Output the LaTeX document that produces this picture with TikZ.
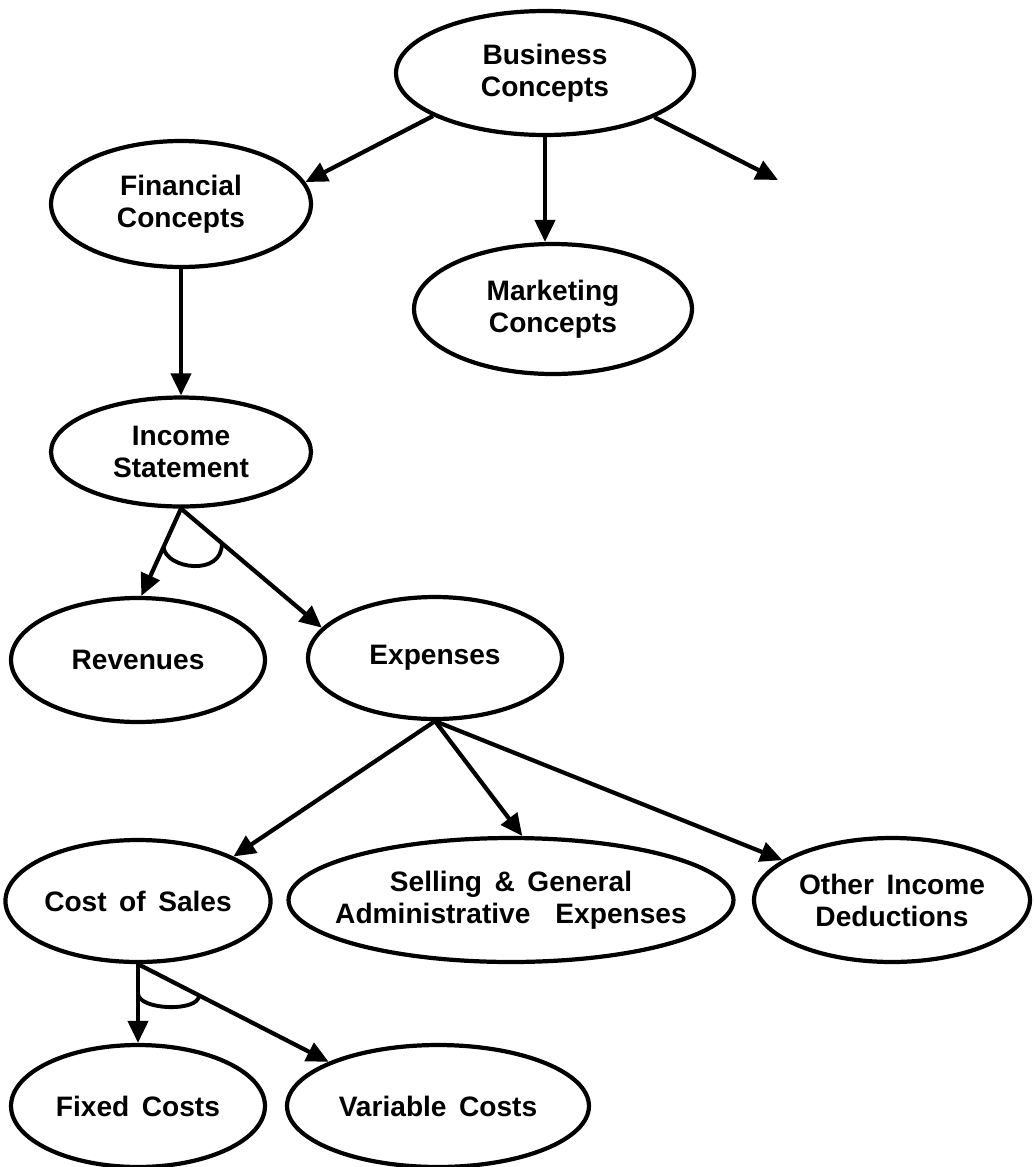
\documentclass[tikz,border=0pt]{standalone}
\usepackage{fontspec}
\setmainfont{Liberation Sans}[WordSpace=1.6]
\usetikzlibrary{shapes.geometric,arrows.meta,calc}

\begin{document}
\begin{tikzpicture}[x=0.02cm, y=-0.02cm, >={Triangle[length=0.44cm,width=0.4cm]},
    concept/.style={ellipse, draw, line width=2.4pt, inner sep=0pt, align=center,
        font=\fontsize{16}{18.2}\selectfont\bfseries},
    link/.style={->, line width=2.4pt}]
    \useasboundingbox (0,0) rectangle (1035,1167);

    % Draw the concept ellipses
    \node[concept, minimum width=5.96cm, minimum height=2.48cm] (biz) at (545,73) {Business\\Concepts};
    \node[concept, minimum width=5.2cm, minimum height=2.52cm] (fin) at (181,204) {Financial\\Concepts};
    \node[concept, minimum width=5.56cm, minimum height=2.6cm] (mkt) at (553,309) {Marketing\\Concepts};
    \node[concept, minimum width=5.2cm, minimum height=2.18cm] (inc) at (181,452) {Income\\Statement};
    \node[concept, minimum width=5.08cm, minimum height=2.48cm] (rev) at (138,660) {Revenues};
    \node[concept, minimum width=5.08cm, minimum height=2.44cm] (exp) at (435,658) {Expenses};
    \node[concept, minimum width=5.08cm, minimum height=2.44cm] (cos) at (138,901) {Cost of Sales};
    \node[concept, inner xsep=-1cm, minimum width=8.9cm, minimum height=2.48cm] (sell) at (511,900) {Selling \& General\\Administrative\ \ Expenses};
    \node[concept, minimum width=5.52cm, minimum height=2.48cm] (oth) at (892,900) {Other Income\\Deductions};
    \node[concept, minimum width=5.08cm, minimum height=2.44cm] (fix) at (138,1106) {Fixed Costs};
    \node[concept, minimum width=6.04cm, minimum height=2.44cm] (var) at (438,1106) {Variable Costs};

    % Free end of the third branch
    \coordinate (more) at (778,180);

    % Draw the links
    \draw[link] (biz.201) -- (fin.10);
    \draw[link] (biz.south) -- (biz.south |- mkt.north);
    \draw[link] (biz.-22) -- (more);
    \draw[link] (fin.south) -- (inc.north);
    \draw[link] (inc.south) -- (rev.87);
    \draw[link] (inc.south) -- (exp.165);
    \draw[link] (exp.south) -- (cos.25);
    \draw[link] (exp.south) -- (sell.80);
    \draw[link] (exp.south) -- (oth.160);
    \draw[link] (cos.south) -- (fix.north);
    \draw[link] (cos.south) -- (var.158);

    % Draw the arcs joining the split links
    \coordinate (ia) at ($(inc.south)!0.44!(rev.87)$);
    \coordinate (ib) at ($(inc.south)!0.29!(exp.165)$);
    \draw[line width=2.2pt] (ia) .. controls ($(ia)+(2,22)$) and ($(ib)+(1,34)$) .. (ib);
    \coordinate (ca) at ($(cos.south)!0.37!(fix.north)$);
    \coordinate (cb) at ($(cos.south)!0.32!(var.158)$);
    \draw[line width=2.2pt] (ca) .. controls ($(ca)+(0,17)$) and ($(cb)+(0,17)$) .. (cb);

\end{tikzpicture}
\end{document}
